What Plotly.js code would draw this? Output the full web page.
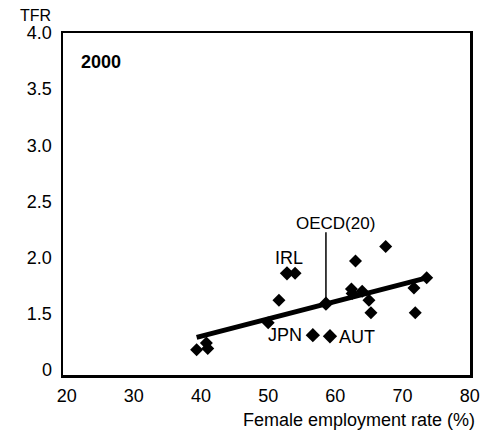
<!DOCTYPE html>
<html><head><meta charset="utf-8">
<script src="https://cdn.plot.ly/plotly-3.0.1.min.js"></script>
<style>body{margin:0;background:#fff}#c{width:482px;height:437px}</style>
</head><body><div id="c"></div>
<script>
// Unlabelled countries: female employment rate (%) and TFR
const empX = [39.35, 40.8, 41.0, 50.0, 51.6, 54.0, 62.4, 62.5, 64.0, 65.0, 65.3, 63.0, 67.5, 71.7, 71.9, 73.6];
const tfrY = [1.18, 1.24, 1.19, 1.42, 1.62, 1.86, 1.72, 1.68, 1.70, 1.62, 1.51, 1.97, 2.10, 1.73, 1.51, 1.82];
// Labelled countries
const labelled = ["IRL", "JPN", "AUT"];
const labX = [52.8, 56.65, 59.2];
const labY = [1.86, 1.31, 1.30];
// OECD average
const oecdName = "OECD(20)";
const oecdX = [58.6];
const oecdY = [1.59];
// Fitted line
const fitX = [39.35, 73.6];
const fitY = [1.29, 1.82];
// Axis ticks (broken y axis: the bottom tick is labelled 0)
const yTickVals = [1.0, 1.5, 2.0, 2.5, 3.0, 3.5, 4.0];
const yTickText = ["0", "1.5", "2.0", "2.5", "3.0", "3.5", "4.0"];
const xTickVals = [20, 30, 40, 50, 60, 70, 80];

const F = "'Liberation Sans', Arial, sans-serif";

const traces = [
  {x: fitX, y: fitY, mode: "lines", line: {color: "#000", width: 5}, hoverinfo: "skip"},
  {x: empX, y: tfrY, mode: "markers", marker: {symbol: "diamond", size: 10, color: "#000", opacity: 1}},
  {x: labX, y: labY, mode: "markers", marker: {symbol: "diamond", size: 11, color: "#000", opacity: 1}},
  {x: oecdX, y: oecdY, mode: "markers", marker: {symbol: "diamond", size: 11, color: "#000", opacity: 1}}
];

const layout = {
  width: 482, height: 437,
  margin: {l: 63, r: 12, t: 33, b: 62},
  paper_bgcolor: "#fff", plot_bgcolor: "#fff",
  showlegend: false,
  font: {family: F, color: "#000", size: 18},
  xaxis: {
    range: [19.45, 80.05], tickvals: xTickVals, showgrid: false, zeroline: false,
    showline: true, mirror: true, linecolor: "#000", linewidth: 2.5,
    ticks: "", ticklabelstandoff: 3, tickfont: {family: F, size: 18, color: "#000"},
    title: {text: ""}
  },
  yaxis: {
    range: [0.955, 4.0], tickvals: yTickVals, ticktext: yTickText,
    showgrid: false, zeroline: false,
    showline: true, mirror: true, linecolor: "#000", linewidth: 2.5,
    ticks: "", ticklabelstandoff: 5, tickfont: {family: F, size: 18, color: "#000"}
  },
  shapes: [
    {type: "line", xref: "x", yref: "y", x0: oecdX[0], x1: oecdX[0], y0: oecdY[0], y1: 2.225, line: {color: "#000", width: 1.5}}
  ],
  annotations: [
    {xref: "paper", yref: "paper", x: 0.04, y: 0.914, text: "<b>2000</b>", showarrow: false, xanchor: "left", yanchor: "middle", font: {family: F, size: 18}},
    {xref: "x", yref: "y", x: 60.07, y: 2.30, text: oecdName, showarrow: false, xanchor: "center", yanchor: "middle", font: {family: F, size: 17}},
    {xref: "x", yref: "y", x: 53.08, y: 2.0, text: labelled[0], showarrow: false, xanchor: "center", yanchor: "middle", font: {family: F, size: 18}},
    {xref: "x", yref: "y", x: 55.4, y: 1.31, text: labelled[1], showarrow: false, xanchor: "right", yanchor: "middle", font: {family: F, size: 18}},
    {xref: "x", yref: "y", x: 60.2, y: 1.29, text: labelled[2], showarrow: false, xanchor: "left", yanchor: "middle", font: {family: F, size: 18}},
    {xref: "paper", yref: "paper", x: 1.018, y: -0.133, text: "Female employment rate (%)", showarrow: false, xanchor: "right", yanchor: "middle", font: {family: F, size: 18}},
    {xref: "paper", yref: "paper", x: -0.025, y: 1.052, text: "TFR", showarrow: false, xanchor: "right", yanchor: "middle", font: {family: F, size: 16}}
  ]
};

Plotly.newPlot("c", traces, layout, {displayModeBar: false, staticPlot: true});
</script>
</body></html>
